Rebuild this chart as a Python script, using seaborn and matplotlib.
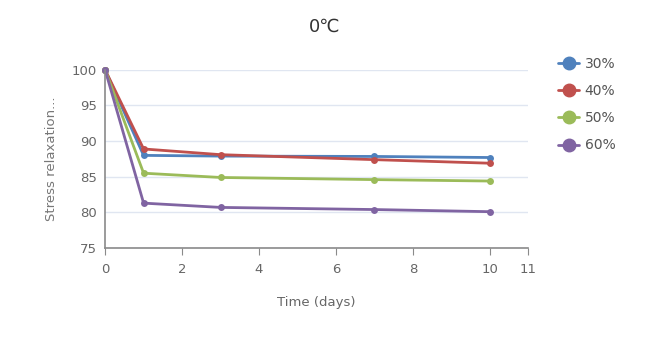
import pandas as pd
import numpy as np
import matplotlib.pyplot as plt
import seaborn as sns
from matplotlib.lines import Line2D

days = [0, 1, 3, 7, 10]
s30 = [100, 88.0, 87.9, 87.85, 87.7]
s40 = [100, 88.9, 88.1, 87.4, 86.9]
s50 = [100, 85.5, 84.9, 84.6, 84.4]
s60 = [100, 81.3, 80.7, 80.4, 80.1]
series = ['30%', '40%', '50%', '60%']
colors = ['#4f81bd', '#c0504d', '#9bbb59', '#8064a2']

df = pd.DataFrame({
    'day': days * 4,
    'value': s30 + s40 + s50 + s60,
    'group': [s for s in series for _ in days],
})

sns.set_style('white')
plt.rcParams['font.family'] = ['DejaVu Sans']

fig = plt.figure(figsize=(6.53, 3.6), dpi=100)
ax = fig.add_axes([0.161, 0.311, 0.648, 0.495])

sns.lineplot(data=df, x='day', y='value', hue='group', palette=colors,
             marker='o', markersize=5, markeredgewidth=0, linewidth=2,
             legend=False, ax=ax)
for ln in ax.lines:
    ln.set_clip_on(False)

ax.set_xlim(0, 11)
ax.set_ylim(75, 100)
ax.set_xticks([0, 2, 4, 6, 8, 10, 11])
ax.set_yticks([75, 80, 85, 90, 95, 100])
ax.yaxis.grid(True, color='#e0e6f1', linewidth=1)
ax.set_axisbelow(True)
for sp in ['top', 'right']:
    ax.spines[sp].set_visible(False)
for sp in ['left', 'bottom']:
    ax.spines[sp].set_color('#8a8a8a')
    ax.spines[sp].set_linewidth(1.2)
ax.tick_params(axis='x', colors='#8a8a8a', labelcolor='#666666', labelsize=9.5,
               length=5, direction='out', bottom=True, pad=6)
ax.tick_params(axis='y', colors='#8a8a8a', labelcolor='#666666', labelsize=9.5,
               length=0, pad=6)
ax.set_xlabel('Time (days)', color='#666666', fontsize=9.5, labelpad=14)
ax.set_ylabel('Stress relaxation...', color='#777777', fontsize=9.5, labelpad=10)
fig.text(0.497, 0.925, '0℃', ha='center', va='center', fontsize=13, color='#333333')

handles = [Line2D([], [], color=c, marker='o', markersize=9, linewidth=2)
           for c in colors]
fig.legend(handles, series, loc='upper left', bbox_to_anchor=(0.836, 0.877),
           frameon=False, fontsize=10, handlelength=1.5, handletextpad=0.4,
           labelspacing=0.95, labelcolor='#555555')

fig.savefig('out.png', dpi=100)
